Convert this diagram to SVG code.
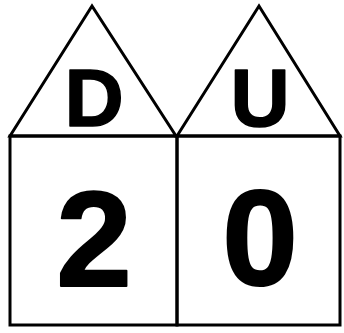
<svg xmlns="http://www.w3.org/2000/svg" width="344" height="333" viewBox="0 0 344 333">
<style>
.sh{fill:none;stroke:#000;stroke-width:3;stroke-linejoin:miter}
.lt{font-family:"Liberation Sans",Arial,sans-serif;font-weight:bold;font-size:82px;text-anchor:middle;fill:#000;stroke:#000;stroke-width:1.5;stroke-linejoin:round}
.dg{font-family:"Liberation Sans",Arial,sans-serif;font-weight:bold;font-size:136px;text-anchor:middle;fill:#000;stroke:#000;stroke-width:2;stroke-linejoin:round}
</style>
<rect width="344" height="333" fill="#fff"/>
<g id="left">
<polygon class="sh" points="10,136 92,6 176,136"/>
<rect class="sh" x="10" y="136" width="167" height="189"/>
<text class="lt" x="94" y="126">D</text>
<text class="dg" x="94" y="286">2</text>
</g>
<g id="right">
<polygon class="sh" points="177,136 259,6 340,136"/>
<rect class="sh" x="177" y="136" width="163" height="189"/>
<text class="lt" x="260" y="126">U</text>
<text class="dg" x="260" y="285">0</text>
</g>
</svg>
